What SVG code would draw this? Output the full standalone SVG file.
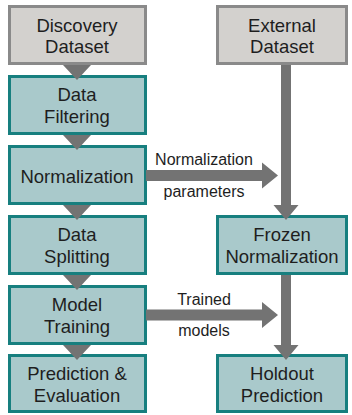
<svg xmlns="http://www.w3.org/2000/svg" width="352" height="415" viewBox="0 0 352 415">
<style>
.g rect{fill:#d3d1ce;stroke:#8a8a8a;stroke-width:3}
.t rect{fill:#a9c9cb;stroke:#177f7f;stroke-width:3}
text{font-family:"Liberation Sans",Arial,sans-serif;fill:#1e1e1e;text-anchor:middle}
.n text{font-size:18.5px}
.lbl{font-size:16px}
.ar{fill:#737373}
</style>
<g id="discovery" class="g n"><rect x="9.5" y="6.5" width="136" height="57"/><text x="77" y="31.5">Discovery</text><text x="77" y="52.5">Dataset</text></g>
<g id="filtering" class="t n"><rect x="9.5" y="76.5" width="136" height="57"/><text x="77" y="101">Data</text><text x="77" y="122.5">Filtering</text></g>
<g id="normalization" class="t n"><rect x="9.5" y="146.5" width="136" height="57"/><text x="77" y="183">Normalization</text></g>
<g id="splitting" class="t n"><rect x="9.5" y="216.5" width="136" height="57"/><text x="77" y="241">Data</text><text x="77" y="262.5">Splitting</text></g>
<g id="training" class="t n"><rect x="9.5" y="286.5" width="136" height="57"/><text x="77" y="311">Model</text><text x="77" y="332.5">Training</text></g>
<g id="prediction" class="t n"><rect x="9.5" y="355.5" width="136" height="56"/><text x="77" y="380">Prediction &amp;</text><text x="77" y="401.5">Evaluation</text></g>
<g id="external" class="g n"><rect x="217.5" y="6.5" width="129" height="57"/><text x="282" y="31.5">External</text><text x="282" y="52.5">Dataset</text></g>
<g id="frozen" class="t n"><rect x="217.5" y="216.5" width="129" height="57"/><text x="282" y="241">Frozen</text><text x="282" y="262.5">Normalization</text></g>
<g id="holdout" class="t n"><rect x="217.5" y="355.5" width="129" height="56"/><text x="282" y="380">Holdout</text><text x="282" y="401.5">Prediction</text></g>
<g id="connectors">
<polygon class="ar" points="63,65 91,65 77,80"/>
<polygon class="ar" points="63,135 91,135 77,150"/>
<polygon class="ar" points="63,205 91,205 77,220"/>
<polygon class="ar" points="63,275 91,275 77,290"/>
<polygon class="ar" points="63,345 91,345 77,360"/>
<polygon class="ar" points="281,65 291,65 291,205 298.5,205 286,220 273.5,205 281,205"/>
<polygon class="ar" points="281,275 291,275 291,345 298.5,345 286,360 273.5,345 281,345"/>
<polygon class="ar" points="146,170 262,170 262,162.5 278,175.5 262,188.5 262,181 146,181"/>
<polygon class="ar" points="146,309.5 262,309.5 262,302 278,315 262,328 262,320.5 146,320.5"/>
<text class="lbl" x="204" y="165">Normalization</text>
<text class="lbl" x="204" y="197">parameters</text>
<text class="lbl" x="204" y="305">Trained</text>
<text class="lbl" x="204" y="336">models</text>
</g>
</svg>
